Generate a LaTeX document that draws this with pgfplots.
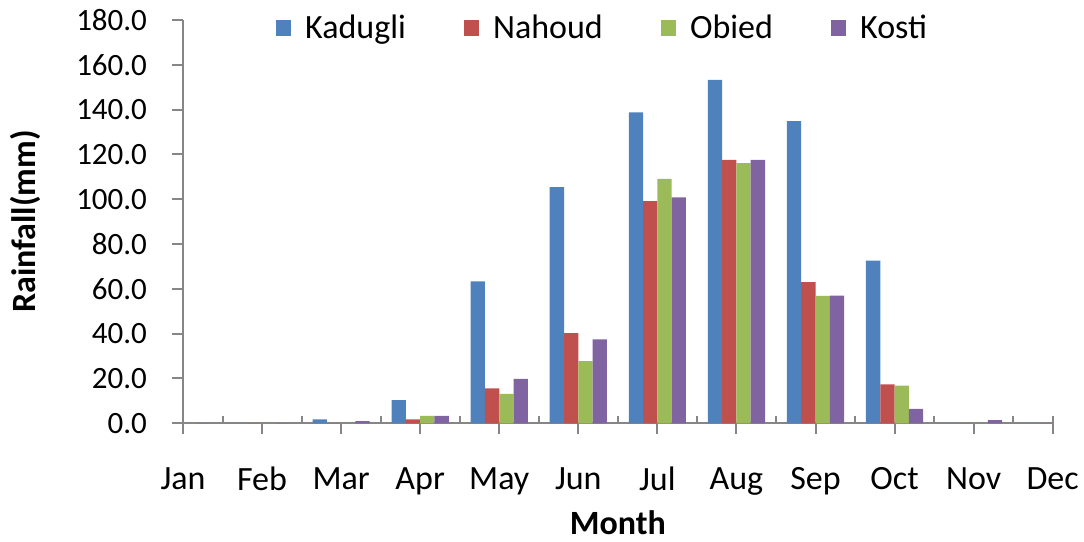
\documentclass[border=0pt]{standalone}
\usepackage{fontspec}
\setmainfont{Carlito}
\usepackage{pgfplots}
\usepackage{pgfplotstable}
\pgfplotsset{compat=1.18}
\definecolor{cK}{HTML}{4F81BD}
\definecolor{cN}{HTML}{C0504D}
\definecolor{cO}{HTML}{9BBB59}
\definecolor{cKo}{HTML}{8064A2}
\definecolor{axgray}{RGB}{134,134,134}
\pgfplotstableread{
m K N O Ko
0 0 0 0 0
1 0 0 0 0
2 1.8 0 0 1.0
3 10.3 1.8 3.3 3.3
4 63.4 15.6 13.1 19.8
5 105.4 40.2 27.8 37.5
6 138.8 99.2 109.1 100.8
7 153.3 117.6 116.1 117.6
8 134.9 63.0 56.9 57.0
9 72.6 17.4 16.8 6.4
10 0 0 0 1.4
11 0 0 0 0
}\data
\begin{document}
\begin{tikzpicture}[font=\fontsize{17}{20}\selectfont]
\path[use as bounding box] (-91.5pt,-59.35pt) rectangle (450.5pt,211.65pt);
\begin{axis}[
  at={(0pt,0pt)}, anchor=south west,
  scale only axis, width=434.85pt, height=201.65pt,
  xmin=0, xmax=11, ymin=0, ymax=180,
  enlargelimits=false,
  ybar=0pt, bar width=7.15pt,
  axis x line=bottom, axis y line=left,
  x axis line style={-, draw=axgray, line width=1pt},
  y axis line style={-, draw=axgray, line width=1pt},
  tick style={draw=axgray, line width=1pt},
  tick align=outside, major tick length=5.5pt,
  xtick={0,...,11},
  xticklabels={Jan,Feb,Mar,Apr,May,Jun,Jul,Aug,Sep,Oct,Nov,Dec},
  extra x ticks={0.5,1.5,...,10.5,11},
  extra x tick labels={},
  extra x tick style={grid=none, tick align=inside, major tick length=3.5pt},
  ytick={0,20,...,180},
  /pgf/number format/assume math mode=true,
  yticklabel style={/pgf/number format/fixed, /pgf/number format/fixed zerofill, /pgf/number format/precision=1, xshift=-9pt, font=\fontsize{15.5}{18}\selectfont},
  xticklabel style={yshift=-13pt},
  every axis y label/.style={at={(rel axis cs:0,0.5)}, xshift=-79pt, rotate=90, anchor=center},
  every axis x label/.style={at={(rel axis cs:0.5,0)}, yshift=-49.5pt, anchor=center},
  ylabel={\bfseries Rainfall(mm)},
  xlabel={\bfseries Month},
  legend style={at={(0.4835,0.98)}, anchor=center, draw=none, fill=none,
    legend columns=4, /tikz/every even column/.append style={column sep=27pt},
    /tikz/every odd column/.append style={column sep=5pt}},
  legend image code/.code={\fill[#1] (0pt,-3.8pt) rectangle (7.6pt,3.8pt);},
]
\addplot[fill=cK, draw=none] table[x=m,y=K] {\data};
\addplot[fill=cN, draw=none] table[x=m,y=N] {\data};
\addplot[fill=cO, draw=none] table[x=m,y=O] {\data};
\addplot[fill=cKo, draw=none] table[x=m,y=Ko] {\data};
\legend{Kadugli,Nahoud,Obied,Kosti}
\end{axis}
\end{tikzpicture}
\end{document}
